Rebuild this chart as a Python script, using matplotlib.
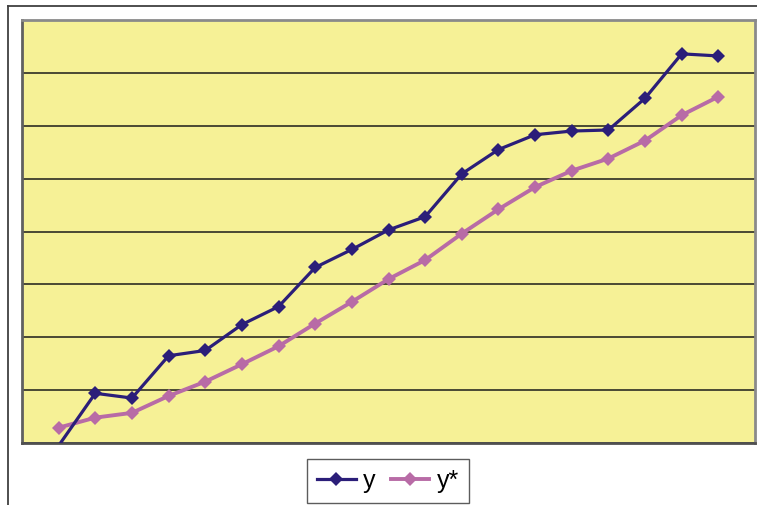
import matplotlib
matplotlib.use("Agg")
import matplotlib.pyplot as plt
from matplotlib.lines import Line2D

x = list(range(1, 20))
y = [-0.05, 0.94, 0.85, 1.65, 1.75, 2.24, 2.58, 3.32, 3.66, 4.03, 4.28,
     5.09, 5.55, 5.83, 5.90, 5.92, 6.52, 7.36, 7.32]
y_star = [0.29, 0.48, 0.57, 0.89, 1.16, 1.49, 1.83, 2.26, 2.67, 3.10, 3.46,
          3.96, 4.42, 4.84, 5.15, 5.38, 5.72, 6.20, 6.55]
labels = ["y", "y*"]

W, H = 757, 505
fig = plt.figure(figsize=(W / 100, H / 100), dpi=100)
ax = fig.add_axes([22 / W, (H - 443) / H, 733 / W, 423 / H])
ax.set_facecolor("#F6F196")

ax.set_xlim(0, 20)
ax.set_ylim(0, 8)
ax.set_yticks(range(0, 9))
ax.set_xticks([])
ax.tick_params(left=False, labelleft=False, bottom=False, labelbottom=False)
ax.grid(axis="y", color="#3c3c2c", linewidth=1.3)
ax.set_axisbelow(True)

for side, sp in ax.spines.items():
    sp.set_color("#8a8a8a")
    sp.set_linewidth(2.0)
ax.spines["bottom"].set_color("#505050")
ax.spines["left"].set_color("#606060")

ax.plot(x, y_star, color="#B86BA6", linewidth=2.8, marker="D", markersize=7.6,
        markeredgewidth=0, label=labels[1], zorder=3)
ax.plot(x, y, color="#2B1E79", linewidth=2.3, marker="D", markersize=7.2,
        markeredgewidth=0, markevery=list(range(1, 19)), label=labels[0], zorder=4)

h, l = ax.get_legend_handles_labels()
leg = fig.legend([h[1], h[0]], [l[1], l[0]], loc="center",
                 bbox_to_anchor=(388 / W, 1 - 481 / H), ncol=2,
                 prop={"family": "Liberation Sans", "size": 18},
                 frameon=True, fancybox=False, edgecolor="#333333",
                 handlelength=1.55, handletextpad=0.3, columnspacing=0.6,
                 borderpad=0.4, borderaxespad=0)
leg.get_frame().set_linewidth(1.0)

# chart area border (top and left visible)
fig.add_artist(Line2D([8 / W, 1], [1 - 6 / H, 1 - 6 / H], color="#404040",
                      linewidth=1.3, transform=fig.transFigure))
fig.add_artist(Line2D([8 / W, 8 / W], [0, 1 - 6 / H], color="#404040",
                      linewidth=1.3, transform=fig.transFigure))

fig.savefig("out.png", dpi=100)
